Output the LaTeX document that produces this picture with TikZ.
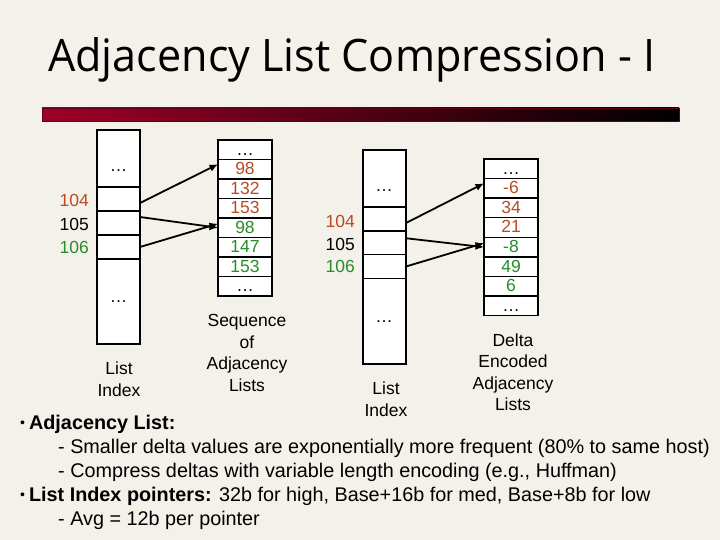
\documentclass[tikz,border=0pt]{standalone}
\usepackage{fontspec}
\setmainfont{Liberation Sans}
\newfontfamily\titlefont{Open Sans}
\usetikzlibrary{arrows.meta,positioning}
\definecolor{bg}{RGB}{243,241,234}
\definecolor{numorange}{RGB}{185,75,35}
\definecolor{numgreen}{RGB}{40,140,40}
\definecolor{barred}{RGB}{160,0,40}
\tikzset{
  cellbox/.style={draw=black, line width=1.3pt, fill=white, inner sep=0pt, outer sep=0pt,
    anchor=north west, font=\fontsize{17.5}{20}\selectfont, text height=12.4pt, text depth=1.5pt},
  idxcell/.style={cellbox, minimum width=43pt},
  seqcell/.style={cellbox, minimum width=54pt, minimum height=19.5pt},
  dotsnode/.style={inner sep=0pt, font=\fontsize{17.5}{20}\selectfont},
  idxlabel/.style={inner sep=0pt, font=\fontsize{17.5}{20}\selectfont, text height=12.4pt, text depth=1.5pt, anchor=east},
  caption/.style={inner sep=0pt, align=center, font=\fontsize{17.5}{21.5}\selectfont},
  arr/.style={line width=1.8pt, -{Latex[length=8.5pt,width=7.5pt]}},
  bodytext/.style={inner sep=0pt, anchor=base west, font=\fontsize{19.8}{22}\selectfont}
}
\newcommand{\smallbullet}{\raisebox{2pt}{\fontsize{14}{14}\selectfont •}\hspace{4pt}}
\begin{document}
\begin{tikzpicture}[x=1pt,y=-1pt]
\fill[bg] (0,0) rectangle (720,540);
\useasboundingbox (0,0) rectangle (720,540);

% title
\node[inner sep=0pt, anchor=base west] (title) at (48,72)
  {\resizebox{607pt}{34pt}{\titlefont Adjacency List Compression - I}};
\shade[left color=barred, right color=black, draw=black!40!barred, line width=0.6pt]
  (42,108) rectangle (679,121);

% left list index
\node[idxcell, minimum height=57pt] (lt) at (97,130) {};
\node[idxcell, minimum height=24pt] (l104) at (97,187) {};
\node[idxcell, minimum height=24pt] (l105) at (97,211) {};
\node[idxcell, minimum height=24pt] (l106) at (97,235) {};
\node[idxcell, minimum height=85pt] (lb) at (97,259) {};
\node[dotsnode] (ltd) at (118.5,171) {…};
\node[dotsnode] (lbd) at (118.5,302) {…};
\node[idxlabel, text=numorange, left=8pt of l104, yshift=-2pt] (lab104) {104};
\node[idxlabel, text=black, left=8pt of l105, yshift=-2pt] (lab105) {105};
\node[idxlabel, text=numgreen, left=8pt of l106, yshift=-1pt] (lab106) {106};

% sequence of adjacency lists
\node[seqcell] (s0) at (218,140) {…};
\node[seqcell, text=numorange] (s1) at (218,159.5) {98};
\node[seqcell, text=numorange] (s2) at (218,179) {132};
\node[seqcell, text=numorange] (s3) at (218,198.5) {153};
\node[seqcell, text=numgreen] (s4) at (218,218) {98};
\node[seqcell, text=numgreen] (s5) at (218,237.5) {147};
\node[seqcell, text=numgreen] (s6) at (218,257) {153};
\node[seqcell] (s7) at (218,276.5) {…};

\draw[arr] ([yshift=-4pt]l104.east) -- ([yshift=5pt]s1.west);
\draw[arr] ([yshift=6pt]l105.east) -- (s4.west);
\draw[arr] (l106.east) -- ([yshift=4pt]s4.west);

\node[caption] (lcap) at (119,379) {List\\Index};
\node[caption] (scap) at (247,353) {Sequence\\of\\Adjacency\\Lists};

% right list index
\node[idxcell, minimum height=57pt] (rt) at (363,150) {};
\node[idxcell, minimum height=24pt] (r104) at (363,207) {};
\node[idxcell, minimum height=23.5pt] (r105) at (363,231) {};
\node[idxcell, minimum height=24pt] (r106) at (363,254.5) {};
\node[idxcell, minimum height=85.5pt] (rb) at (363,278.5) {};
\node[dotsnode] (rtd) at (384,190.5) {…};
\node[dotsnode] (rbd) at (384,322) {…};
\node[idxlabel, text=numorange, left=8pt of r104, yshift=-3pt] (rlab104) {104};
\node[idxlabel, text=black, left=8pt of r105, yshift=-2pt] (rlab105) {105};
\node[idxlabel, text=numgreen, left=8pt of r106, yshift=-1pt] (rlab106) {106};

% delta encoded lists
\node[seqcell] (d0) at (484,159) {…};
\node[seqcell, text=numorange] (d1) at (484,178.6) {-6};
\node[seqcell, text=numorange] (d2) at (484,198.2) {34};
\node[seqcell, text=numorange] (d3) at (484,217.8) {21};
\node[seqcell, text=numgreen] (d4) at (484,237.4) {-8};
\node[seqcell, text=numgreen] (d5) at (484,257) {49};
\node[seqcell, text=numgreen] (d6) at (484,276.6) {6};
\node[seqcell] (d7) at (484,296.2) {…};

\draw[arr] ([yshift=-4pt]r104.east) -- ([yshift=5pt]d1.west);
\draw[arr] ([yshift=4.5pt]r105.east) -- (d4.west);
\draw[arr] (r106.east) -- ([yshift=4pt]d4.west);

\node[caption] (rcap) at (386,399) {List\\Index};
\node[caption] (dcap) at (513,372) {Delta\\Encoded\\Adjacency\\Lists};

% body text
\node[bodytext] (b1) at (20,429) {\smallbullet\textbf{Adjacency List:}};
\node[bodytext] (b2) at (58,453) {- Smaller delta values are exponentially more frequent (80\% to same host)};
\node[bodytext] (b3) at (58,477) {- Compress deltas with variable length encoding (e.g., Huffman)};
\node[bodytext] (b4) at (20,501) {\smallbullet\textbf{List Index pointers:} 32b for high, Base+16b for med, Base+8b for low};
\node[bodytext] (b5) at (58,525) {- Avg = 12b per pointer};
\end{tikzpicture}
\end{document}
